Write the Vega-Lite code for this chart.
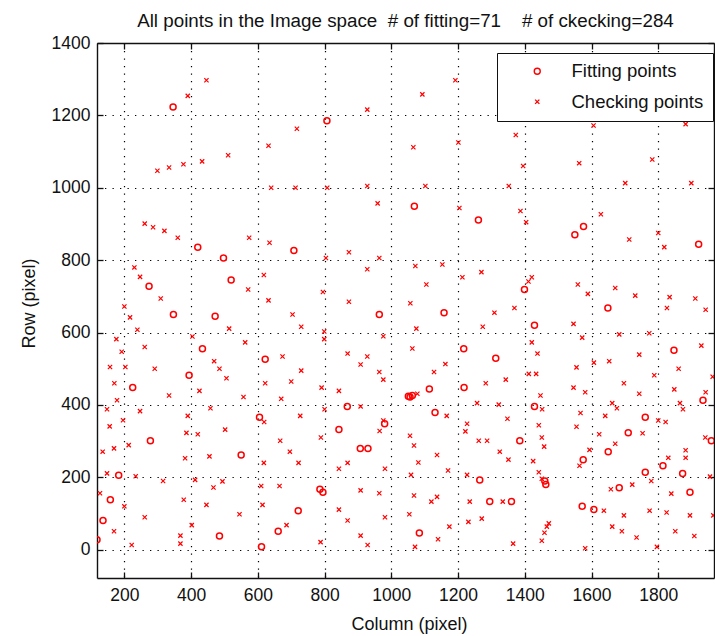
{
  "$schema": "https://vega.github.io/schema/vega-lite/v6.json",
  "width": 617,
  "height": 535,
  "autosize": {"type": "none"},
  "padding": {"left": 97, "top": 43, "right": 1, "bottom": 58},
  "background": "white",
  "config": {
    "font": "Liberation Sans",
    "view": {"stroke": null},
    "legend": {"symbolStrokeColor": "#ff0000", "symbolStrokeWidth": 1.4, "symbolFillColor": "transparent"}
  },
  "title": {
    "text": "All points in the Image space\u00a0\u00a0# of fitting=71\u00a0\u00a0\u00a0\u00a0# of ckecking=284",
    "fontSize": 18.8,
    "fontWeight": "normal",
    "color": "#111",
    "anchor": "middle",
    "frame": "group",
    "baseline": "alphabetic",
    "offset": 15.7,
    "dy": 27
  },
  "datasets": {
    "fit": [
      {"col":346,"row":1223,"type":"Fitting points"},{"col":807,"row":1185,"type":"Fitting points"},{"col":1069,"row":949,"type":"Fitting points"},{"col":1261,"row":911,"type":"Fitting points"},{"col":1576,"row":893,"type":"Fitting points"},{"col":1550,"row":870,"type":"Fitting points"},{"col":1921,"row":844,"type":"Fitting points"},{"col":420,"row":836,"type":"Fitting points"},{"col":708,"row":827,"type":"Fitting points"},{"col":497,"row":806,"type":"Fitting points"},
      {"col":520,"row":745,"type":"Fitting points"},{"col":274,"row":728,"type":"Fitting points"},{"col":964,"row":650,"type":"Fitting points"},{"col":347,"row":650,"type":"Fitting points"},{"col":472,"row":645,"type":"Fitting points"},{"col":1399,"row":719,"type":"Fitting points"},{"col":1158,"row":655,"type":"Fitting points"},{"col":1649,"row":668,"type":"Fitting points"},{"col":1429,"row":620,"type":"Fitting points"},{"col":434,"row":555,"type":"Fitting points"},
      {"col":622,"row":526,"type":"Fitting points"},{"col":1217,"row":555,"type":"Fitting points"},{"col":1313,"row":529,"type":"Fitting points"},{"col":1847,"row":551,"type":"Fitting points"},{"col":394,"row":482,"type":"Fitting points"},{"col":225,"row":448,"type":"Fitting points"},{"col":1114,"row":444,"type":"Fitting points"},{"col":1218,"row":448,"type":"Fitting points"},{"col":1051,"row":424,"type":"Fitting points"},{"col":1056,"row":422,"type":"Fitting points"},
      {"col":1063,"row":426,"type":"Fitting points"},{"col":1934,"row":413,"type":"Fitting points"},{"col":1429,"row":396,"type":"Fitting points"},{"col":868,"row":396,"type":"Fitting points"},{"col":605,"row":366,"type":"Fitting points"},{"col":1131,"row":379,"type":"Fitting points"},{"col":1761,"row":366,"type":"Fitting points"},{"col":843,"row":332,"type":"Fitting points"},{"col":980,"row":348,"type":"Fitting points"},{"col":278,"row":301,"type":"Fitting points"},
      {"col":907,"row":280,"type":"Fitting points"},{"col":930,"row":280,"type":"Fitting points"},{"col":550,"row":262,"type":"Fitting points"},{"col":183,"row":206,"type":"Fitting points"},{"col":786,"row":167,"type":"Fitting points"},{"col":795,"row":159,"type":"Fitting points"},{"col":158,"row":138,"type":"Fitting points"},{"col":136,"row":81,"type":"Fitting points"},{"col":721,"row":108,"type":"Fitting points"},{"col":661,"row":51,"type":"Fitting points"},
      {"col":485,"row":38,"type":"Fitting points"},{"col":611,"row":8,"type":"Fitting points"},{"col":118,"row":28,"type":"Fitting points"},{"col":1385,"row":301,"type":"Fitting points"},{"col":1710,"row":323,"type":"Fitting points"},{"col":1650,"row":271,"type":"Fitting points"},{"col":1959,"row":301,"type":"Fitting points"},{"col":1575,"row":249,"type":"Fitting points"},{"col":1814,"row":232,"type":"Fitting points"},{"col":1265,"row":193,"type":"Fitting points"},
      {"col":1463,"row":180,"type":"Fitting points"},{"col":1460,"row":190,"type":"Fitting points"},{"col":1761,"row":214,"type":"Fitting points"},{"col":1873,"row":211,"type":"Fitting points"},{"col":1683,"row":171,"type":"Fitting points"},{"col":1895,"row":159,"type":"Fitting points"},{"col":1295,"row":133,"type":"Fitting points"},{"col":1360,"row":133,"type":"Fitting points"},{"col":1572,"row":120,"type":"Fitting points"},{"col":1607,"row":111,"type":"Fitting points"},
      {"col":1084,"row":46,"type":"Fitting points"}
    ],
    "chk": [
      {"col":446,"row":1297,"type":"Checking points"},{"col":390,"row":1254,"type":"Checking points"},{"col":928,"row":1216,"type":"Checking points"},{"col":717,"row":1163,"type":"Checking points"},{"col":632,"row":1116,"type":"Checking points"},{"col":511,"row":1090,"type":"Checking points"},{"col":433,"row":1073,"type":"Checking points"},{"col":377,"row":1065,"type":"Checking points"},{"col":334,"row":1056,"type":"Checking points"},{"col":299,"row":1047,"type":"Checking points"},
      {"col":640,"row":1000,"type":"Checking points"},{"col":713,"row":1000,"type":"Checking points"},{"col":808,"row":1000,"type":"Checking points"},{"col":928,"row":1005,"type":"Checking points"},{"col":959,"row":957,"type":"Checking points"},{"col":261,"row":901,"type":"Checking points"},{"col":286,"row":891,"type":"Checking points"},{"col":320,"row":881,"type":"Checking points"},{"col":360,"row":862,"type":"Checking points"},{"col":1192,"row":1297,"type":"Checking points"},
      {"col":1093,"row":1258,"type":"Checking points"},{"col":1606,"row":1172,"type":"Checking points"},{"col":1882,"row":1176,"type":"Checking points"},{"col":1373,"row":1146,"type":"Checking points"},{"col":1201,"row":1125,"type":"Checking points"},{"col":1066,"row":1112,"type":"Checking points"},{"col":1395,"row":1060,"type":"Checking points"},{"col":1563,"row":1068,"type":"Checking points"},{"col":1782,"row":1078,"type":"Checking points"},{"col":1102,"row":1005,"type":"Checking points"},
      {"col":1352,"row":1005,"type":"Checking points"},{"col":1701,"row":1013,"type":"Checking points"},{"col":1899,"row":1013,"type":"Checking points"},{"col":1204,"row":944,"type":"Checking points"},{"col":1387,"row":936,"type":"Checking points"},{"col":1404,"row":905,"type":"Checking points"},{"col":1628,"row":927,"type":"Checking points"},
      {"col":574,"row":862,"type":"Checking points"},{"col":635,"row":848,"type":"Checking points"},{"col":804,"row":806,"type":"Checking points"},{"col":873,"row":822,"type":"Checking points"},{"col":964,"row":806,"type":"Checking points"},{"col":230,"row":780,"type":"Checking points"},{"col":928,"row":775,"type":"Checking points"},{"col":247,"row":754,"type":"Checking points"},{"col":618,"row":759,"type":"Checking points"},{"col":571,"row":719,"type":"Checking points"},
      {"col":795,"row":712,"type":"Checking points"},{"col":309,"row":694,"type":"Checking points"},{"col":632,"row":689,"type":"Checking points"},{"col":873,"row":685,"type":"Checking points"},{"col":1057,"row":681,"type":"Checking points"},{"col":200,"row":672,"type":"Checking points"},{"col":217,"row":642,"type":"Checking points"},{"col":704,"row":650,"type":"Checking points"},{"col":239,"row":608,"type":"Checking points"},{"col":514,"row":611,"type":"Checking points"},
      {"col":730,"row":616,"type":"Checking points"},{"col":799,"row":603,"type":"Checking points"},{"col":176,"row":582,"type":"Checking points"},{"col":404,"row":589,"type":"Checking points"},{"col":799,"row":582,"type":"Checking points"},{"col":976,"row":590,"type":"Checking points"},{"col":261,"row":560,"type":"Checking points"},{"col":562,"row":573,"type":"Checking points"},{"col":192,"row":547,"type":"Checking points"},{"col":469,"row":521,"type":"Checking points"},
      {"col":674,"row":534,"type":"Checking points"},{"col":869,"row":542,"type":"Checking points"},{"col":928,"row":534,"type":"Checking points"},{"col":157,"row":505,"type":"Checking points"},{"col":203,"row":505,"type":"Checking points"},{"col":291,"row":500,"type":"Checking points"},{"col":485,"row":500,"type":"Checking points"},{"col":730,"row":495,"type":"Checking points"},{"col":908,"row":512,"type":"Checking points"},{"col":964,"row":491,"type":"Checking points"},
      {"col":170,"row":460,"type":"Checking points"},{"col":506,"row":474,"type":"Checking points"},{"col":622,"row":460,"type":"Checking points"},{"col":700,"row":465,"type":"Checking points"},{"col":976,"row":470,"type":"Checking points"},{"col":791,"row":448,"type":"Checking points"},{"col":843,"row":439,"type":"Checking points"},{"col":334,"row":426,"type":"Checking points"},{"col":425,"row":439,"type":"Checking points"},{"col":557,"row":422,"type":"Checking points"},
      {"col":670,"row":417,"type":"Checking points"},{"col":178,"row":413,"type":"Checking points"},{"col":148,"row":388,"type":"Checking points"},{"col":247,"row":383,"type":"Checking points"},{"col":390,"row":370,"type":"Checking points"},{"col":458,"row":391,"type":"Checking points"},{"col":727,"row":370,"type":"Checking points"},{"col":908,"row":396,"type":"Checking points"},{"col":800,"row":388,"type":"Checking points"},{"col":976,"row":357,"type":"Checking points"},
      {"col":196,"row":358,"type":"Checking points"},
      {"col":1713,"row":857,"type":"Checking points"},{"col":1800,"row":875,"type":"Checking points"},{"col":1818,"row":836,"type":"Checking points"},{"col":1072,"row":784,"type":"Checking points"},{"col":1153,"row":788,"type":"Checking points"},{"col":1105,"row":733,"type":"Checking points"},{"col":1213,"row":753,"type":"Checking points"},{"col":1270,"row":767,"type":"Checking points"},{"col":1411,"row":741,"type":"Checking points"},{"col":1421,"row":753,"type":"Checking points"},
      {"col":1559,"row":733,"type":"Checking points"},{"col":1589,"row":707,"type":"Checking points"},{"col":1671,"row":723,"type":"Checking points"},{"col":1731,"row":702,"type":"Checking points"},{"col":1834,"row":698,"type":"Checking points"},{"col":1911,"row":694,"type":"Checking points"},{"col":1309,"row":655,"type":"Checking points"},{"col":1369,"row":668,"type":"Checking points"},{"col":1826,"row":668,"type":"Checking points"},{"col":1942,"row":663,"type":"Checking points"},
      {"col":1075,"row":611,"type":"Checking points"},{"col":1274,"row":616,"type":"Checking points"},{"col":1546,"row":624,"type":"Checking points"},{"col":1572,"row":586,"type":"Checking points"},{"col":1683,"row":595,"type":"Checking points"},{"col":1773,"row":598,"type":"Checking points"},{"col":1063,"row":556,"type":"Checking points"},{"col":1421,"row":573,"type":"Checking points"},{"col":1438,"row":542,"type":"Checking points"},{"col":1607,"row":517,"type":"Checking points"},
      {"col":1653,"row":521,"type":"Checking points"},{"col":1743,"row":539,"type":"Checking points"},{"col":1929,"row":564,"type":"Checking points"},{"col":1162,"row":513,"type":"Checking points"},{"col":1128,"row":491,"type":"Checking points"},{"col":1555,"row":504,"type":"Checking points"},{"col":1861,"row":500,"type":"Checking points"},{"col":1412,"row":486,"type":"Checking points"},{"col":1434,"row":486,"type":"Checking points"},{"col":1788,"row":482,"type":"Checking points"},
      {"col":1963,"row":478,"type":"Checking points"},{"col":1343,"row":470,"type":"Checking points"},{"col":1283,"row":460,"type":"Checking points"},{"col":1697,"row":460,"type":"Checking points"},{"col":1546,"row":448,"type":"Checking points"},{"col":1848,"row":443,"type":"Checking points"},{"col":1078,"row":431,"type":"Checking points"},{"col":1447,"row":426,"type":"Checking points"},{"col":1581,"row":435,"type":"Checking points"},{"col":1743,"row":431,"type":"Checking points"},
      {"col":1942,"row":435,"type":"Checking points"},{"col":1257,"row":405,"type":"Checking points"},{"col":1322,"row":401,"type":"Checking points"},{"col":1452,"row":388,"type":"Checking points"},{"col":1662,"row":405,"type":"Checking points"},{"col":1676,"row":391,"type":"Checking points"},{"col":1865,"row":405,"type":"Checking points"},{"col":1874,"row":388,"type":"Checking points"},{"col":1166,"row":370,"type":"Checking points"},{"col":1348,"row":362,"type":"Checking points"},
      {"col":1567,"row":378,"type":"Checking points"},{"col":1641,"row":370,"type":"Checking points"},{"col":1800,"row":357,"type":"Checking points"},{"col":1822,"row":353,"type":"Checking points"},
      {"col":156,"row":341,"type":"Checking points"},{"col":619,"row":353,"type":"Checking points"},{"col":965,"row":328,"type":"Checking points"},{"col":386,"row":323,"type":"Checking points"},{"col":420,"row":319,"type":"Checking points"},{"col":502,"row":332,"type":"Checking points"},{"col":789,"row":310,"type":"Checking points"},{"col":213,"row":289,"type":"Checking points"},{"col":169,"row":280,"type":"Checking points"},{"col":135,"row":271,"type":"Checking points"},
      {"col":667,"row":301,"type":"Checking points"},{"col":696,"row":271,"type":"Checking points"},{"col":1056,"row":315,"type":"Checking points"},{"col":382,"row":253,"type":"Checking points"},{"col":455,"row":258,"type":"Checking points"},{"col":618,"row":240,"type":"Checking points"},{"col":722,"row":240,"type":"Checking points"},{"col":869,"row":240,"type":"Checking points"},{"col":843,"row":224,"type":"Checking points"},{"col":981,"row":224,"type":"Checking points"},
      {"col":148,"row":211,"type":"Checking points"},{"col":234,"row":203,"type":"Checking points"},{"col":316,"row":190,"type":"Checking points"},{"col":412,"row":193,"type":"Checking points"},{"col":494,"row":189,"type":"Checking points"},{"col":610,"row":176,"type":"Checking points"},{"col":665,"row":176,"type":"Checking points"},{"col":467,"row":172,"type":"Checking points"},{"col":908,"row":164,"type":"Checking points"},{"col":964,"row":156,"type":"Checking points"},
      {"col":127,"row":156,"type":"Checking points"},{"col":200,"row":120,"type":"Checking points"},{"col":378,"row":138,"type":"Checking points"},{"col":446,"row":124,"type":"Checking points"},{"col":614,"row":124,"type":"Checking points"},{"col":843,"row":111,"type":"Checking points"},{"col":1054,"row":98,"type":"Checking points"},{"col":261,"row":90,"type":"Checking points"},{"col":545,"row":98,"type":"Checking points"},{"col":869,"row":81,"type":"Checking points"},
      {"col":981,"row":90,"type":"Checking points"},{"col":402,"row":68,"type":"Checking points"},{"col":686,"row":68,"type":"Checking points"},{"col":169,"row":51,"type":"Checking points"},{"col":368,"row":39,"type":"Checking points"},{"col":368,"row":17,"type":"Checking points"},{"col":908,"row":39,"type":"Checking points"},{"col":222,"row":13,"type":"Checking points"},{"col":788,"row":21,"type":"Checking points"},{"col":929,"row":13,"type":"Checking points"},
      {"col":1068,"row":288,"type":"Checking points"},{"col":1227,"row":348,"type":"Checking points"},{"col":1222,"row":327,"type":"Checking points"},{"col":1262,"row":301,"type":"Checking points"},{"col":1287,"row":301,"type":"Checking points"},{"col":1442,"row":344,"type":"Checking points"},{"col":1451,"row":310,"type":"Checking points"},{"col":1458,"row":285,"type":"Checking points"},{"col":1555,"row":340,"type":"Checking points"},{"col":1623,"row":319,"type":"Checking points"},
      {"col":1753,"row":322,"type":"Checking points"},{"col":1671,"row":293,"type":"Checking points"},{"col":1594,"row":276,"type":"Checking points"},{"col":1941,"row":310,"type":"Checking points"},{"col":1137,"row":262,"type":"Checking points"},{"col":1081,"row":241,"type":"Checking points"},{"col":1325,"row":271,"type":"Checking points"},{"col":1351,"row":249,"type":"Checking points"},{"col":1425,"row":245,"type":"Checking points"},{"col":1564,"row":232,"type":"Checking points"},
      {"col":1882,"row":275,"type":"Checking points"},{"col":1882,"row":254,"type":"Checking points"},{"col":1830,"row":254,"type":"Checking points"},{"col":1170,"row":219,"type":"Checking points"},{"col":1059,"row":207,"type":"Checking points"},{"col":1227,"row":207,"type":"Checking points"},{"col":1442,"row":214,"type":"Checking points"},{"col":1451,"row":196,"type":"Checking points"},{"col":1779,"row":190,"type":"Checking points"},{"col":1955,"row":202,"type":"Checking points"},
      {"col":1722,"row":180,"type":"Checking points"},{"col":1658,"row":167,"type":"Checking points"},{"col":1839,"row":155,"type":"Checking points"},{"col":1068,"row":150,"type":"Checking points"},{"col":1120,"row":133,"type":"Checking points"},{"col":1137,"row":146,"type":"Checking points"},{"col":1235,"row":133,"type":"Checking points"},{"col":1334,"row":133,"type":"Checking points"},{"col":1637,"row":108,"type":"Checking points"},{"col":1774,"row":108,"type":"Checking points"},
      {"col":1825,"row":103,"type":"Checking points"},{"col":1271,"row":86,"type":"Checking points"},{"col":1231,"row":77,"type":"Checking points"},{"col":1697,"row":95,"type":"Checking points"},{"col":1895,"row":95,"type":"Checking points"},{"col":1965,"row":95,"type":"Checking points"},{"col":1174,"row":64,"type":"Checking points"},{"col":1472,"row":73,"type":"Checking points"},{"col":1466,"row":64,"type":"Checking points"},{"col":1459,"row":47,"type":"Checking points"},
      {"col":1451,"row":25,"type":"Checking points"},{"col":1662,"row":64,"type":"Checking points"},{"col":1691,"row":51,"type":"Checking points"},{"col":1851,"row":51,"type":"Checking points"},{"col":1140,"row":29,"type":"Checking points"},{"col":1735,"row":34,"type":"Checking points"},{"col":1908,"row":38,"type":"Checking points"},{"col":1071,"row":8,"type":"Checking points"},{"col":1365,"row":17,"type":"Checking points"},{"col":1581,"row":4,"type":"Checking points"},
      {"col":1796,"row":8,"type":"Checking points"}
    ]
  },
  "layer": [
    {
      "data": {"name": "fit"},
      "mark": {"type": "point", "filled": false, "strokeWidth": 1.5, "color": "#ff0000", "opacity": 1, "clip": true},
      "encoding": {
        "x": {"field": "col", "type": "quantitative",
          "scale": {"domain": [118, 1967], "nice": false, "zero": false},
          "axis": {"orient": "bottom", "values": [200,400,600,800,1000,1200,1400,1600,1800], "format": "d",
            "grid": true, "gridColor": "#000", "gridDash": [1.3, 6.2], "gridWidth": 1.2, "gridOpacity": 1,
            "domainColor": "#111", "domainWidth": 1.4, "tickColor": "#111", "tickWidth": 1.3, "tickSize": -6,
            "labelFontSize": 17.5, "labelColor": "#111", "labelPadding": 14, "labelFont": "Liberation Sans",
            "title": "Column (pixel)", "titleFontSize": 18, "titleFontWeight": "normal", "titleColor": "#111",
            "titleX": 312, "titleY": 51, "titleBaseline": "alphabetic", "titleAnchor": "middle", "titleAlign": "center"}},
        "y": {"field": "row", "type": "quantitative",
          "scale": {"domain": [-78, 1400], "nice": false, "zero": false},
          "axis": {"orient": "left", "values": [0,200,400,600,800,1000,1200,1400], "format": "d",
            "grid": true, "gridColor": "#000", "gridDash": [1.3, 6.2], "gridWidth": 1.2, "gridOpacity": 1,
            "domainColor": "#111", "domainWidth": 1.4, "tickColor": "#111", "tickWidth": 1.3, "tickSize": -6,
            "labelFontSize": 17.5, "labelColor": "#111", "labelPadding": 13, "labelFont": "Liberation Sans",
            "title": "Row (pixel)", "titleFontSize": 18, "titleFontWeight": "normal", "titleColor": "#111",
            "titleAngle": 270, "titleX": -62.5, "titleY": 260, "titleBaseline": "alphabetic", "titleAlign": "center"}},
        "shape": {"field": "type", "type": "nominal",
          "scale": {"domain": ["Fitting points", "Checking points"], "range": ["circle", "M-1,-1L1,1M-1,1L1,-1"]},
          "legend": {"title": null, "orient": "none", "legendX": 400, "legendY": 10,
            "strokeColor": "#111", "fillColor": "white", "padding": 9, "symbolOffset": 22, "labelOffset": 25,
            "labelFontSize": 18.5, "labelColor": "#111", "labelFont": "Liberation Sans", "rowPadding": 11.5,
            "symbolStrokeColor": "#ff0000", "symbolStrokeWidth": 1.4}},
        "size": {"field": "type", "type": "nominal",
          "scale": {"domain": ["Fitting points", "Checking points"], "range": [36, 18]},
          "legend": {"title": null, "orient": "none", "legendX": 400, "legendY": 10,
            "strokeColor": "#111", "fillColor": "white", "padding": 9, "symbolOffset": 22, "labelOffset": 25,
            "labelFontSize": 18.5, "labelColor": "#111", "labelFont": "Liberation Sans", "rowPadding": 11.5,
            "symbolStrokeColor": "#ff0000", "symbolStrokeWidth": 1.4}}
      }
    },
    {
      "data": {"name": "chk"},
      "mark": {"type": "point", "filled": false, "strokeWidth": 1.2, "color": "#ff0000", "opacity": 1, "clip": true},
      "encoding": {
        "x": {"field": "col", "type": "quantitative",
          "axis": {"orient": "top", "values": [200,400,600,800,1000,1200,1400,1600,1800], "grid": false, "labels": false, "title": null,
            "domainColor": "#111", "domainWidth": 1.4, "tickColor": "#111", "tickWidth": 1.3, "tickSize": -6}},
        "y": {"field": "row", "type": "quantitative",
          "axis": {"orient": "right", "values": [0,200,400,600,800,1000,1200,1400], "grid": false, "labels": false, "title": null,
            "domainColor": "#111", "domainWidth": 1.4, "tickColor": "#111", "tickWidth": 1.3, "tickSize": -6}},
        "shape": {"field": "type", "type": "nominal"},
        "size": {"field": "type", "type": "nominal"}
      }
    }
  ],
  "resolve": {"axis": {"x": "independent", "y": "independent"}}
}
